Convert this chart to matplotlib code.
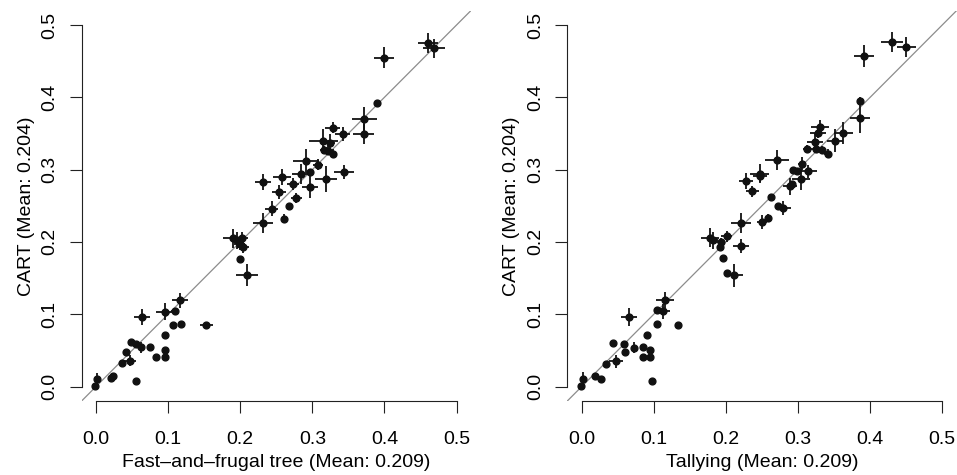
import matplotlib
matplotlib.use("Agg")
import matplotlib.pyplot as plt
import numpy as np

plt.rcParams['font.family'] = ['Liberation Sans', 'DejaVu Sans']

# ---- Left panel: Fast-and-frugal tree vs CART ----
fft_x = [0.460, 0.469, 0.399, 0.389, 0.372, 0.371, 0.342, 0.328, 0.315, 0.324,
         0.316, 0.322, 0.328, 0.291, 0.308, 0.344, 0.284, 0.297, 0.258, 0.231,
         0.319, 0.273, 0.297, 0.254, 0.278, 0.244, 0.267, 0.261, 0.231, 0.190,
         0.195, 0.203, 0.199, 0.204, 0.199, 0.209, 0.117, 0.064, 0.095, 0.109,
         0.107, 0.118, 0.153, 0.096, 0.048, 0.0555, 0.063, 0.075, 0.041, 0.096,
         0.083, 0.096, 0.036, 0.047, 0.023, 0.021, 0.055, 0.001, -0.001]
fft_y = [0.475, 0.468, 0.455, 0.392, 0.370, 0.349, 0.349, 0.358, 0.339, 0.337,
         0.327, 0.326, 0.322, 0.312, 0.307, 0.297, 0.294, 0.296, 0.290, 0.283,
         0.287, 0.280, 0.276, 0.269, 0.261, 0.246, 0.249, 0.232, 0.226, 0.205,
         0.202, 0.206, 0.197, 0.193, 0.177, 0.154, 0.119, 0.096, 0.1035, 0.104,
         0.085, 0.086, 0.085, 0.071, 0.061, 0.059, 0.054, 0.055, 0.048, 0.0505,
         0.041, 0.041, 0.032, 0.036, 0.0145, 0.012, 0.008, 0.011, 0.001]
fft_xerr = [0.014, 0.015, 0.014, 0.003, 0.017, 0.015, 0.010, 0.010, 0.020, 0.008,
            0.006, 0.006, 0.006, 0.018, 0.007, 0.014, 0.012, 0.005, 0.013, 0.011,
            0.015, 0.008, 0.011, 0.010, 0.007, 0.009, 0.002, 0.003, 0.014, 0.014,
            0.008, 0.008, 0.008, 0.008, 0.0, 0.015, 0.011, 0.011, 0.0115, 0.005,
            0.0, 0.004, 0.009, 0.0, 0.004, 0.004, 0.003, 0.0, 0.004, 0.0,
            0.0, 0.0, 0.0, 0.009, 0.0, 0.0, 0.0, 0.002, 0.0]
fft_yerr = [0.014, 0.013, 0.015, 0.003, 0.016, 0.014, 0.010, 0.008, 0.017, 0.012,
            0.006, 0.006, 0.006, 0.017, 0.007, 0.010, 0.014, 0.005, 0.011, 0.011,
            0.018, 0.008, 0.015, 0.010, 0.007, 0.010, 0.002, 0.006, 0.014, 0.013,
            0.012, 0.008, 0.008, 0.008, 0.0, 0.015, 0.010, 0.011, 0.0115, 0.005,
            0.0, 0.002, 0.003, 0.0, 0.002, 0.002, 0.008, 0.0, 0.003, 0.0,
            0.0, 0.0, 0.0, 0.008, 0.0, 0.0, 0.0, 0.008, 0.0]

# ---- Right panel: Tallying vs CART ----
tal_x = [0.430, 0.450, 0.391, 0.386, 0.386, 0.363, 0.351, 0.3305, 0.328, 0.324,
         0.313, 0.325, 0.333, 0.341, 0.271, 0.305, 0.2935, 0.299, 0.3135, 0.304,
         0.247, 0.247, 0.228, 0.291, 0.289, 0.2366, 0.2626, 0.272, 0.2796, 0.259,
         0.2497, 0.221, 0.221, 0.178, 0.1826, 0.201, 0.193, 0.1918, 0.1955, 0.201,
         0.2117, 0.1155, 0.066, 0.104, 0.113, 0.104, 0.134, 0.090, 0.043, 0.0587,
         0.0725, 0.060, 0.0846, 0.0947, 0.0846, 0.0947, 0.0337, 0.0476, 0.0185, 0.0263,
         0.097, 0.0014, -0.001]
tal_y = [0.476, 0.470, 0.457, 0.395, 0.371, 0.351, 0.340, 0.359, 0.351, 0.338,
         0.329, 0.3285, 0.327, 0.322, 0.313, 0.308, 0.299, 0.2977, 0.2977, 0.2875,
         0.2945, 0.2907, 0.284, 0.2806, 0.277, 0.270, 0.262, 0.2497, 0.247, 0.233,
         0.2275, 0.226, 0.194, 0.206, 0.202, 0.2077, 0.200, 0.193, 0.178, 0.157,
         0.1538, 0.120, 0.096, 0.1054, 0.104, 0.086, 0.0856, 0.0717, 0.0607, 0.0593,
         0.0538, 0.0473, 0.0547, 0.051, 0.041, 0.041, 0.0317, 0.0353, 0.0146, 0.0104,
         0.0076, 0.0104, 0.0003]
tal_xerr = [0.015, 0.013, 0.014, 0.003, 0.014, 0.013, 0.011, 0.012, 0.011, 0.011,
            0.006, 0.005, 0.005, 0.005, 0.017, 0.005, 0.004, 0.004, 0.013, 0.013,
            0.013, 0.010, 0.010, 0.004, 0.010, 0.009, 0.003, 0.003, 0.010, 0.003,
            0.007, 0.014, 0.011, 0.013, 0.006, 0.008, 0.006, 0.004, 0.0, 0.0,
            0.012, 0.012, 0.011, 0.004, 0.010, 0.003, 0.004, 0.0, 0.004, 0.004,
            0.003, 0.003, 0.0, 0.0, 0.0, 0.0, 0.0, 0.010, 0.0, 0.0,
            0.0, 0.002, 0.0]
tal_yerr = [0.014, 0.014, 0.015, 0.005, 0.020, 0.015, 0.016, 0.010, 0.008, 0.012,
            0.005, 0.005, 0.005, 0.006, 0.014, 0.009, 0.004, 0.004, 0.009, 0.016,
            0.013, 0.008, 0.011, 0.004, 0.012, 0.008, 0.003, 0.002, 0.010, 0.006,
            0.010, 0.014, 0.010, 0.013, 0.012, 0.008, 0.006, 0.004, 0.0, 0.0,
            0.016, 0.011, 0.012, 0.004, 0.010, 0.002, 0.002, 0.0, 0.002, 0.002,
            0.008, 0.003, 0.0, 0.0, 0.0, 0.0, 0.0, 0.009, 0.0, 0.0,
            0.0, 0.010, 0.0]

tick_vals = [0.0, 0.1, 0.2, 0.3, 0.4, 0.5]
tick_labels = ["0.0", "0.1", "0.2", "0.3", "0.4", "0.5"]
ylabel = "CART (Mean: 0.204)"
xlabels = ["Fast\u2013and\u2013frugal tree (Mean: 0.209)", "Tallying (Mean: 0.209)"]

W, H = 957, 475
fig = plt.figure(figsize=(W / 100, H / 100), dpi=100)
FS = 14

panels = [
    (81.6, fft_x, fft_y, fft_xerr, fft_yerr, xlabels[0]),
    (567.3, tal_x, tal_y, tal_xerr, tal_yerr, xlabels[1]),
]
top_px, bot_px = 10.5, 401.0
wpx = 389.4
for left_px, xs, ys, xe, ye, xl in panels:
    ax = fig.add_axes([left_px / W, 1 - bot_px / H, wpx / W, (bot_px - top_px) / H])
    ax.set_xlim(-0.02, 0.52)
    ax.set_ylim(-0.02, 0.52)
    ax.plot([-0.02, 0.52], [-0.02, 0.52], color="#8c8c8c", lw=0.9, zorder=1)
    ax.errorbar(xs, ys, xerr=xe, yerr=ye, fmt="o", color="#111111",
                ms=4.9, elinewidth=1.3, capsize=0, zorder=3)
    for s in ["top", "right"]:
        ax.spines[s].set_visible(False)
    for s in ["left", "bottom"]:
        ax.spines[s].set_bounds(0.0, 0.5)
        ax.spines[s].set_linewidth(0.8)
        ax.spines[s].set_color("#222222")
    ax.set_xticks(tick_vals)
    ax.set_xticklabels(tick_labels, fontsize=FS)
    ax.set_yticks(tick_vals)
    ax.set_yticklabels(tick_labels, fontsize=FS, rotation=90, va="center")
    ax.tick_params(direction="out", length=8.6, width=0.8, color="#222222")
    ax.tick_params(axis="x", pad=13)
    ax.tick_params(axis="y", pad=8)
    ax.set_xlabel(xl, fontsize=FS, labelpad=4)
    ax.set_ylabel(ylabel, fontsize=FS, labelpad=5)

fig.savefig("out.png", dpi=100)
